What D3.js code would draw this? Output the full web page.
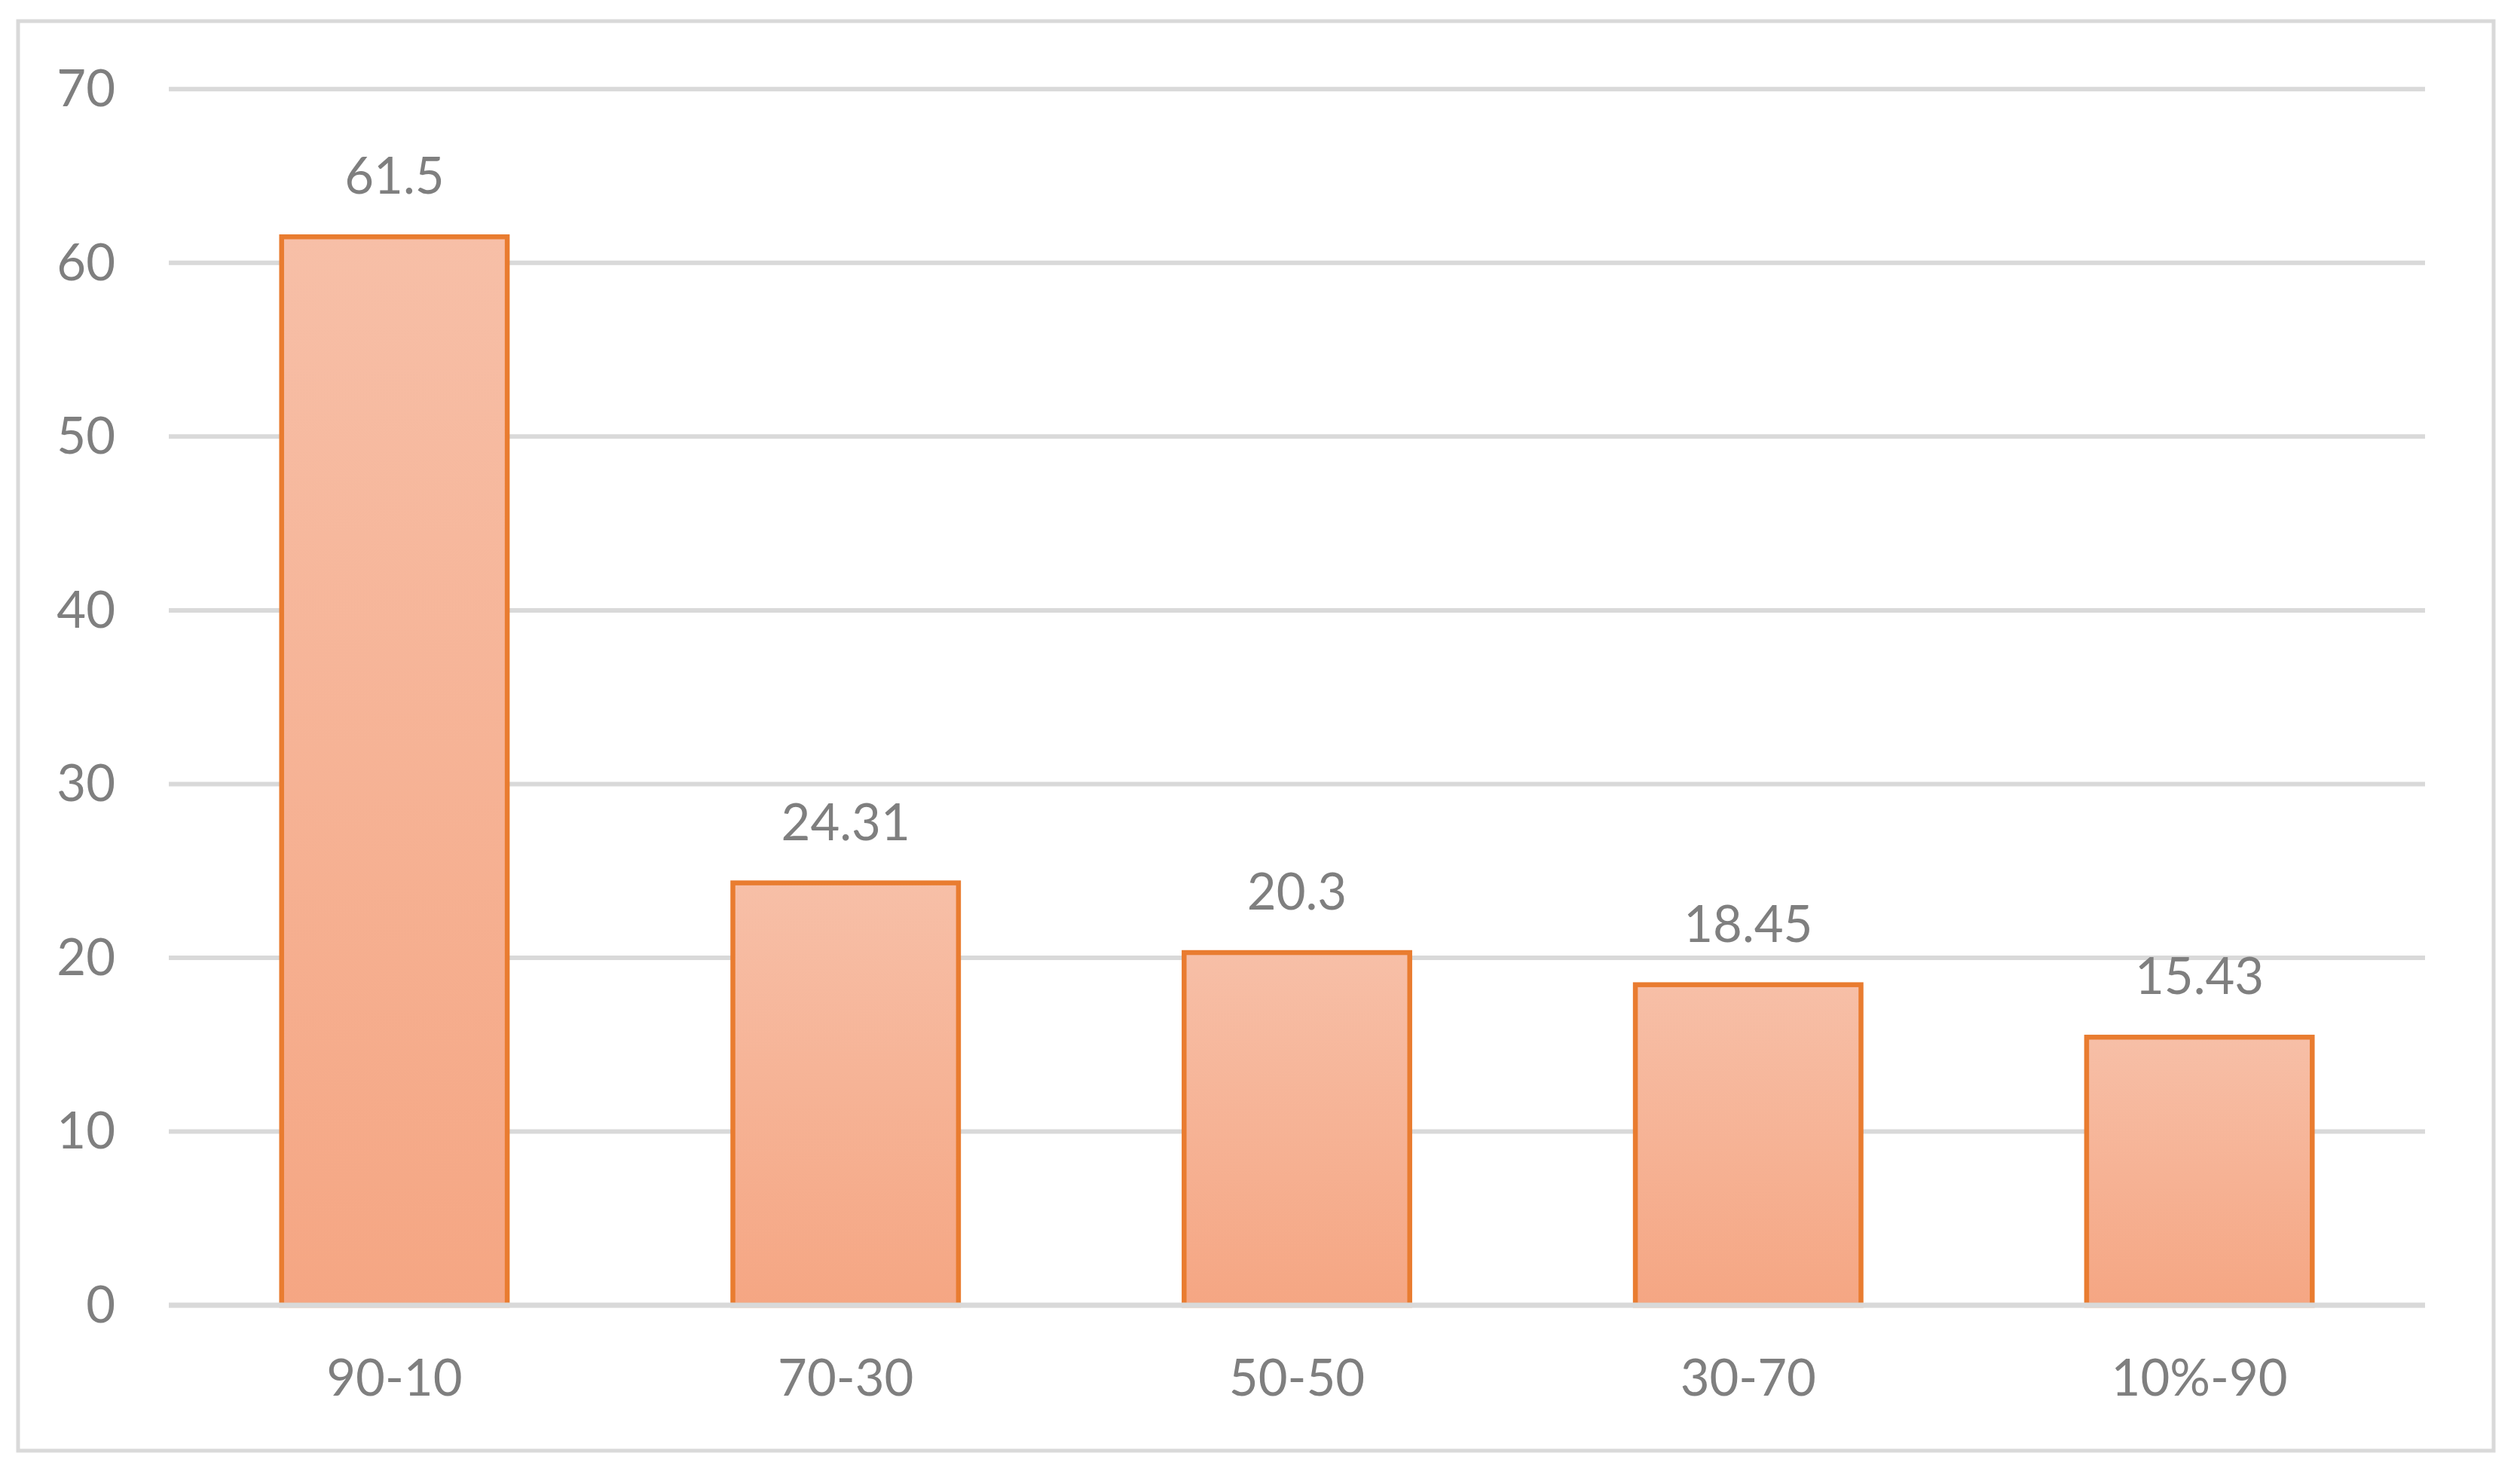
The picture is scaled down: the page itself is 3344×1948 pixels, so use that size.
<!DOCTYPE html>
<html>
<head>
<meta charset="utf-8">
<script src="https://cdn.jsdelivr.net/npm/d3@7"></script>
<style>
  body { margin: 0; background: #fff; }
  svg text { font-family: Lato, "Open Sans", sans-serif; fill: #7f7f7f; }
</style>
</head>
<body>
<div id="chart"></div>
<script>
// ---- data
var categories = ["90-10", "70-30", "50-50", "30-70", "10%-90"];
var values = [61.5, 24.31, 20.3, 18.45, 15.43];
var yTicks = [0, 10, 20, 30, 40, 50, 60, 70];

// ---- layout
var W = 3344, H = 1948;
var plot = {left: 224, right: 3218, top: 118.3, bottom: 1732};
var fontSize = 67;
var gridColor = "#d9d9d9";

var svg = d3.select("#chart")
  .append("svg")
    .attr("width", W)
    .attr("height", H);

// gradient fill for each bar (light at top, darker at bottom)
var grad = svg.append("defs").append("linearGradient")
    .attr("id", "barFill")
    .attr("x1", 0).attr("y1", 0).attr("x2", 0).attr("y2", 1);
grad.append("stop").attr("offset", "0%").attr("stop-color", "#f7bfa7");
grad.append("stop").attr("offset", "100%").attr("stop-color", "#f5a683");

// chart area border
svg.append("rect")
    .attr("x", 24).attr("y", 28)
    .attr("width", 3309 - 24).attr("height", 1925 - 28)
    .attr("fill", "none")
    .attr("stroke", gridColor)
    .attr("stroke-width", 5);

const xScale = d3.scaleBand()
    .domain(categories)
    .range([plot.left, plot.right])
    .paddingInner(0.5)
    .paddingOuter(0.25);

const yScale = d3.scaleLinear()
    .domain([0, 70])
    .range([plot.bottom, plot.top]);

// gridlines (behind the bars)
svg.append("g")
  .selectAll("line")
  .data(yTicks.filter(d => d !== 0))
  .join("line")
    .attr("x1", plot.left).attr("x2", plot.right)
    .attr("y1", d => yScale(d)).attr("y2", d => yScale(d))
    .attr("stroke", gridColor)
    .attr("stroke-width", 6);

// y tick labels
svg.append("g")
  .selectAll("text")
  .data(yTicks)
  .join("text")
    .attr("x", 153)
    .attr("y", d => yScale(d) + 23)
    .attr("text-anchor", "end")
    .attr("font-size", fontSize)
    .text(d => d);

// bars
svg.append("g")
  .selectAll("rect")
  .data(values)
  .join("rect")
    .attr("x", (d, i) => xScale(categories[i]))
    .attr("y", d => yScale(d))
    .attr("width", xScale.bandwidth())
    .attr("height", d => yScale(0) - yScale(d))
    .attr("fill", "url(#barFill)")
    .attr("stroke", "#e97c30")
    .attr("stroke-width", 6.5);

// horizontal axis line on top of the bars
svg.append("line")
    .attr("x1", plot.left).attr("x2", plot.right)
    .attr("y1", yScale(0)).attr("y2", yScale(0))
    .attr("stroke", gridColor)
    .attr("stroke-width", 7);

// value labels
svg.append("g")
  .selectAll("text")
  .data(values)
  .join("text")
    .attr("x", (d, i) => xScale(categories[i]) + xScale.bandwidth() / 2)
    .attr("y", d => yScale(d) - 57)
    .attr("text-anchor", "middle")
    .attr("font-size", fontSize)
    .text(d => d);

// category labels
svg.append("g")
  .selectAll("text")
  .data(categories)
  .join("text")
    .attr("x", d => xScale(d) + xScale.bandwidth() / 2)
    .attr("y", 1852)
    .attr("text-anchor", "middle")
    .attr("font-size", fontSize)
    .text(d => d);
</script>
</body>
</html>
